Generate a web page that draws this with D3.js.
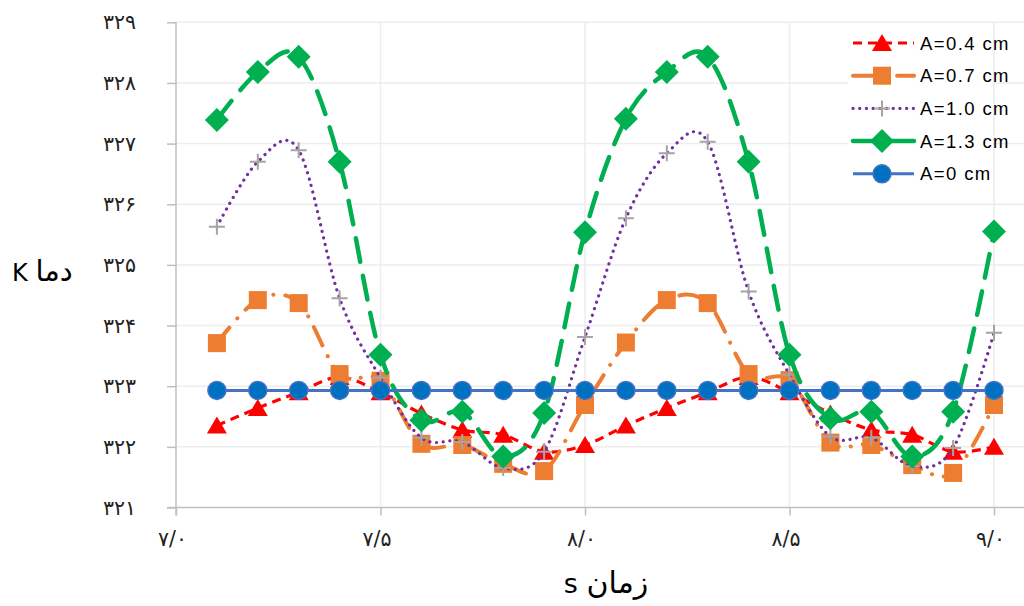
<!DOCTYPE html>
<html>
<head>
<meta charset="utf-8">
<script src="https://cdn.jsdelivr.net/npm/d3@7"></script>
<style>
  html, body { margin: 0; padding: 0; background: #fff; }
  svg { display: block; }
</style>
</head>
<body>
<svg id="chart" width="1024" height="606"></svg>
<script>
// ---------------- data ----------------
const time = [7.1, 7.2, 7.3, 7.4, 7.5, 7.6, 7.7, 7.8, 7.9, 8.0,
              8.1, 8.2, 8.3, 8.4, 8.5, 8.6, 8.7, 8.8, 8.9, 9.0];
const a04 = [322.35, 322.64, 322.9, 323.15, 322.9, 322.55, 322.28, 322.2, 321.92, 322.03,
             322.35, 322.64, 322.9, 323.15, 322.9, 322.55, 322.28, 322.2, 321.92, 322.0];
const a07 = [323.71, 324.42, 324.37, 323.2, 323.09, 322.05, 322.03, 321.72, 321.6, 322.69,
             323.72, 324.42, 324.37, 323.2, 323.1, 322.07, 322.03, 321.7, 321.57, 322.69];
const a10 = [325.63, 326.7, 326.89, 324.45, 323.14, 322.15, 322.08, 321.65, 321.92, 323.81,
             325.77, 326.84, 327.03, 324.56, 323.19, 322.17, 322.15, 321.68, 321.98, 323.88];
const a13 = [327.39, 328.18, 328.43, 326.7, 323.52, 322.44, 322.58, 321.84, 322.56, 325.54,
             327.41, 328.18, 328.43, 326.7, 323.52, 322.47, 322.58, 321.84, 322.58, 325.55];
const a00 = [322.93, 322.93, 322.93, 322.93, 322.93, 322.93, 322.93, 322.93, 322.93, 322.93,
             322.93, 322.93, 322.93, 322.93, 322.93, 322.93, 322.93, 322.93, 322.93, 322.93];
const seriesNames = ["A=0.4 cm", "A=0.7 cm", "A=1.0 cm", "A=1.3 cm", "A=0 cm"];
const yTicks = [321, 322, 323, 324, 325, 326, 327, 328, 329];
const yTickLabels = ["۳۲۱", "۳۲۲", "۳۲۳", "۳۲۴", "۳۲۵", "۳۲۶", "۳۲۷", "۳۲۸", "۳۲۹"];
const xTicks = [7.0, 7.5, 8.0, 8.5, 9.0];
const xTickLabels = ["۷/۰", "۷/۵", "۸/۰", "۸/۵", "۹/۰"];
const xTitleUnit = "s", xTitleWord = "زمان";
const yTitleUnit = "K", yTitleWord = "دما";

// ---------------- layout ----------------
const svg = d3.select("#chart");
const x = d3.scaleLinear().domain([7.0, 9.0]).range([176, 994]);
const y = d3.scaleLinear().domain([321, 329]).range([507.5, 22.3]);
const xEnd = 1024;

const grid = svg.append("g");
grid.selectAll("line.h").data(yTicks.slice(1)).join("line")
  .attr("x1", x(7.0)).attr("x2", xEnd)
  .attr("y1", d => y(d)).attr("y2", d => y(d))
  .attr("stroke", "#EDEDED").attr("stroke-width", 1.5);
grid.selectAll("line.v").data(xTicks.slice(1)).join("line")
  .attr("x1", d => x(d)).attr("x2", d => x(d))
  .attr("y1", y(329)).attr("y2", y(321))
  .attr("stroke", "#EDEDED").attr("stroke-width", 1.5);

// axes
const yAxis = d3.axisLeft(y).tickValues(yTicks).tickSize(9).tickPadding(31)
  .tickFormat((d, i) => yTickLabels[i]);
const gy = svg.append("g").attr("transform", `translate(${x(7.0)},0)`).call(yAxis);
gy.select(".domain").remove();
gy.append("line").attr("x1", 0).attr("x2", 0).attr("y1", y(329)).attr("y2", y(321) + 8)
  .attr("stroke", "#BFBFBF").attr("stroke-width", 1.5);
gy.selectAll(".tick line").attr("stroke", "#BFBFBF").attr("stroke-width", 1.5);
gy.selectAll(".tick text").attr("font-family", "DejaVu Sans").attr("font-size", 20.5)
  .attr("fill", "#222").style("letter-spacing", "3px");

const xAxis = d3.axisBottom(x).tickValues(xTicks).tickSize(8).tickPadding(16)
  .tickFormat((d, i) => xTickLabels[i]);
const gx = svg.append("g").attr("transform", `translate(0,${y(321)})`).call(xAxis);
gx.select(".domain").remove();
gx.append("line").attr("x1", x(7.0) - 9).attr("x2", xEnd).attr("y1", 0).attr("y2", 0)
  .attr("stroke", "#BFBFBF").attr("stroke-width", 1.5);
gx.selectAll(".tick line").attr("stroke", "#BFBFBF").attr("stroke-width", 1.5);
gx.selectAll(".tick text").attr("font-family", "DejaVu Sans").attr("font-size", 20.5)
  .attr("fill", "#222").attr("dx", -4).style("letter-spacing", "2px");

// titles
const xt = svg.append("text").attr("x", 606).attr("y", 593).attr("text-anchor", "middle")
  .attr("font-family", "DejaVu Sans").attr("fill", "#000");
xt.append("tspan").attr("font-size", 27).text(xTitleUnit + " ");
xt.append("tspan").attr("font-size", 30).text(xTitleWord);
const yt = svg.append("text").attr("x", 12).attr("y", 281).attr("text-anchor", "start")
  .attr("font-family", "DejaVu Sans").attr("fill", "#000");
yt.append("tspan").attr("font-size", 24).text(yTitleUnit + "  ");
yt.append("tspan").attr("font-size", 29).text(yTitleWord);

// ---------------- series ----------------
const curve = d3.curveCatmullRom.alpha(0);
const styles = [
  { vals: a04, color: "#FF0000", width: 3.2, dash: "9,6", cap: "butt", marker: "tri", mfill: "#FF0000" },
  { vals: a07, color: "#ED7D31", width: 4, dash: "20,12,0.1,12", cap: "round", marker: "sq", mfill: "#ED7D31" },
  { vals: a10, color: "#7030A0", width: 3.2, dash: "0.1,6.6", cap: "round", marker: "plus", mfill: "#A5A5A5" },
  { vals: a13, color: "#00B050", width: 4.5, dash: "24,14", cap: "round", marker: "dia", mfill: "#00B050" },
  { vals: a00, color: "#4472C4", width: 3, dash: null, cap: "butt", marker: "circ", mfill: "#0070C0" }
];

function markerPath(type) {
  switch (type) {
    case "tri": return "M0,-9L10,8L-10,8Z";
    case "sq": return "M-9,-9H9V9H-9Z";
    case "dia": return "M0,-12L12,0L0,12L-12,0Z";
    case "plus": return "M-8,0H8M0,-8V8";
    case "circ": return d3.symbol(d3.symbolCircle, Math.PI * 81)();
  }
}
function drawMarker(g, s) {
  const p = g.append("path").attr("d", markerPath(s.marker));
  if (s.marker === "plus") {
    p.attr("fill", "none").attr("stroke", s.mfill).attr("stroke-width", 2);
  } else if (s.marker === "circ") {
    p.attr("fill", s.mfill).attr("stroke", "#4472C4").attr("stroke-width", 1.5);
  } else {
    p.attr("fill", s.mfill);
  }
  return p;
}

const line = d3.line().x((d, i) => x(time[i])).y(d => y(d)).curve(curve);
styles.forEach((s, k) => {
  const g = svg.append("g");
  const ln = (s.marker === "circ") ? d3.line().x((d, i) => x(time[i])).y(d => y(d)) : line;
  g.append("path").attr("d", ln(s.vals)).attr("fill", "none")
    .attr("stroke", s.color).attr("stroke-width", s.width)
    .attr("stroke-dasharray", s.dash).attr("stroke-linecap", s.cap)
    .attr("stroke-linejoin", "round");
  s.vals.forEach((v, i) => {
    const mg = g.append("g").attr("transform", `translate(${x(time[i])},${y(v)})`);
    drawMarker(mg, s);
  });
});

// ---------------- legend ----------------
const leg = svg.append("g");
leg.append("rect").attr("x", 848).attr("y", 27).attr("width", 145).attr("height", 163)
  .attr("fill", "#fff");
styles.forEach((s, k) => {
  const ly = 43 + k * 32.7;
  const g = leg.append("g").attr("transform", `translate(0,${ly})`);
  g.append("line").attr("x1", 853).attr("x2", 914).attr("y1", 0).attr("y2", 0)
    .attr("stroke", s.color).attr("stroke-width", s.width)
    .attr("stroke-dasharray", s.dash).attr("stroke-linecap", s.cap);
  const mg = g.append("g").attr("transform", "translate(882,0)");
  drawMarker(mg, s);
  g.append("text").attr("x", 920).attr("y", 0).attr("dy", "0.36em")
    .attr("font-family", "Liberation Sans").attr("font-size", 18.5).attr("fill", "#000")
    .style("letter-spacing", "1.4px")
    .text(seriesNames[k]);
});
</script>
</body>
</html>
